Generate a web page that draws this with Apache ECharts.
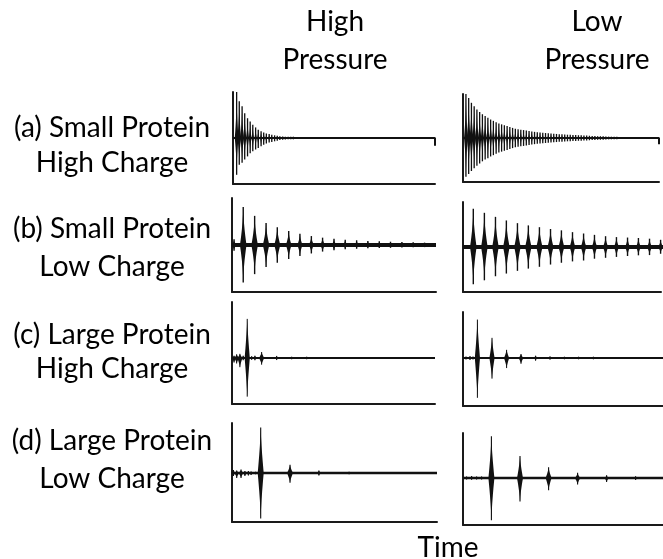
<!DOCTYPE html>
<html>
<head>
<meta charset="utf-8">
<script src="https://cdn.jsdelivr.net/npm/echarts@6/dist/echarts.min.js"></script>
<style>
  html, body { margin: 0; padding: 0; background: #fff; }
  #chart { width: 663px; height: 559px; }
</style>
</head>
<body>
<div id="chart"></div>
<script>
// Headings
const columnTitles = [['High', 'Pressure'], ['Low', 'Pressure']];
const rowTitles = [
  ['(a) Small Protein', 'High Charge'],
  ['(b) Small Protein', 'Low Charge'],
  ['(c) Large Protein', 'High Charge'],
  ['(d) Large Protein', 'Low Charge']
];
const timeTitle = 'Time';

// Transient signals. Each spike: time (0-100 across the trace),
// upward and downward excursion from the baseline (1 = baseline-to-axis distance).

// (a) small protein, high charge
const aHighTime = [1.8, 3.1, 4.5, 5.8, 7.2, 8.5, 9.8, 11.2, 12.5, 13.9, 15.2, 16.5, 17.9, 19.2, 20.6, 21.9, 23.2, 24.6, 25.9, 27.3, 28.6, 29.9];
const aHighUp   = [1.0, 0.80, 0.69, 0.54, 0.43, 0.36, 0.29, 0.23, 0.18, 0.145, 0.12, 0.10, 0.087, 0.07, 0.058, 0.05, 0.04, 0.034, 0.028, 0.023, 0.018, 0.014];
const aHighDown = [0.80, 0.58, 0.54, 0.47, 0.40, 0.33, 0.29, 0.25, 0.22, 0.18, 0.145, 0.12, 0.10, 0.087, 0.072, 0.058, 0.045, 0.036, 0.03, 0.024, 0.018, 0.014];
const aHighBaseline = [[0, 0], [100, 0], [100, -0.17]];

const aLowTime = [1.5, 2.9, 4.3, 5.7, 7.1, 8.5, 9.9, 11.3, 12.7, 14.1, 15.5, 16.9, 18.3, 19.7, 21.1, 22.5, 23.9, 25.3, 26.7, 28.1,
  29.5, 30.9, 32.3, 33.7, 35.1, 36.5, 37.9, 39.3, 40.7, 42.1, 43.5, 44.9, 46.3, 47.7, 49.1, 50.5, 51.9, 53.3, 54.7, 56.1,
  57.5, 58.9, 60.3, 61.7, 63.1, 64.5, 65.9, 67.3, 68.7, 70.1, 71.5, 72.9, 74.3, 75.7, 77.1, 78.5];
const aLowUp = [1.0, 0.91, 0.80, 0.72, 0.65, 0.59, 0.54, 0.50, 0.46, 0.42, 0.39, 0.36, 0.33, 0.31, 0.29, 0.27, 0.25, 0.23, 0.21, 0.20,
  0.19, 0.18, 0.17, 0.16, 0.15, 0.14, 0.133, 0.126, 0.12, 0.113, 0.106, 0.10, 0.096, 0.092, 0.088, 0.084, 0.08, 0.075, 0.072, 0.069,
  0.066, 0.063, 0.06, 0.057, 0.054, 0.051, 0.048, 0.045, 0.042, 0.04, 0.037, 0.034, 0.031, 0.028, 0.026, 0.024];
const aLowDown = [0.88, 0.82, 0.75, 0.69, 0.63, 0.58, 0.53, 0.49, 0.46, 0.42, 0.39, 0.36, 0.33, 0.31, 0.29, 0.27, 0.25, 0.23, 0.21, 0.20,
  0.19, 0.18, 0.17, 0.16, 0.15, 0.14, 0.133, 0.126, 0.12, 0.113, 0.106, 0.10, 0.096, 0.092, 0.088, 0.084, 0.08, 0.075, 0.072, 0.069,
  0.066, 0.063, 0.06, 0.057, 0.054, 0.051, 0.048, 0.045, 0.042, 0.04, 0.037, 0.034, 0.031, 0.028, 0.026, 0.024];
const aLowBaseline = [[0, 0], [100, 0], [100, -0.14]];

// (b) small protein, low charge
const bHighTime = [1.0, 5.5, 11.1, 16.7, 22.2, 27.8, 33.3, 38.9, 44.4, 50.0, 55.5, 61.1, 66.6, 72.2, 77.7, 83.3, 88.8, 94.4];
const bHighUp   = [0.12, 0.81, 0.62, 0.47, 0.38, 0.30, 0.24, 0.19, 0.156, 0.135, 0.113, 0.10, 0.085, 0.078, 0.07, 0.064, 0.057, 0.05];
const bHighDown = [0.12, 0.80, 0.62, 0.47, 0.376, 0.30, 0.234, 0.18, 0.14, 0.113, 0.09, 0.08, 0.07, 0.065, 0.06, 0.055, 0.05, 0.045];
const bHighBaseline = [[0, 0], [100, 0]];

const bLowTime = [5.2, 10.8, 16.4, 21.9, 27.5, 33.0, 38.6, 44.2, 49.7, 55.3, 60.9, 66.4, 72.0, 77.5, 83.1, 88.6, 94.2, 99.8];
const bLowUp   = [0.85, 0.76, 0.67, 0.59, 0.53, 0.48, 0.44, 0.40, 0.37, 0.33, 0.30, 0.27, 0.24, 0.22, 0.21, 0.20, 0.185, 0.16];
const bLowDown = [0.83, 0.74, 0.65, 0.59, 0.53, 0.48, 0.44, 0.39, 0.35, 0.32, 0.30, 0.26, 0.24, 0.22, 0.20, 0.185, 0.18, 0.15];
const bLowBaseline = [[0, 0], [101, 0]];

// (c) large protein, high charge
const cHighTime = [1.0, 2.3, 3.9, 5.5, 7.5, 9.7, 11.3, 14.6, 22.0, 29.4, 36.8];
const cHighUp   = [0.05, 0.08, 0.09, 0.05, 0.85, 0.04, 0.05, 0.13, 0.045, 0.02, 0.01];
const cHighDown = [0.10, 0.12, 0.20, 0.05, 0.84, 0.04, 0.05, 0.145, 0.045, 0.02, 0.01];
const cHighBaseline = [[0, 0], [100, 0]];

const cLowTime = [1.5, 3.5, 5.0, 7.2, 14.5, 21.8, 29.0, 36.3, 43.5, 50.7, 57.8, 65.2];
const cLowUp   = [0.03, 0.04, 0.03, 0.80, 0.42, 0.17, 0.083, 0.048, 0.035, 0.021, 0.015, 0.01];
const cLowDown = [0.03, 0.04, 0.03, 0.83, 0.43, 0.21, 0.12, 0.056, 0.035, 0.021, 0.015, 0.01];
const cLowBaseline = [[0, 0], [100, 0]];

// (d) large protein, low charge
const dHighTime = [0.7, 2.3, 4.4, 6.3, 8.0, 9.3, 11.5, 14.0, 28.3, 42.4, 57.1];
const dHighUp   = [0.06, 0.05, 0.07, 0.04, 0.04, 0.03, 0.02, 0.93, 0.17, 0.05, 0.02];
const dHighDown = [0.06, 0.10, 0.10, 0.06, 0.05, 0.04, 0.02, 0.93, 0.20, 0.05, 0.02];
const dHighBaseline = [[0, 0], [100, 0]];

const dLowTime = [1.8, 4.3, 6.8, 9.3, 14.2, 28.5, 42.8, 57.3, 71.8, 86.3];
const dLowUp   = [0.03, 0.04, 0.03, 0.03, 0.89, 0.47, 0.23, 0.11, 0.057, 0.036];
const dLowDown = [0.03, 0.04, 0.03, 0.03, 0.90, 0.50, 0.26, 0.14, 0.085, 0.043];
const dLowBaseline = [[0, 0], [100, 0]];

// Spike drawing styles
const styleA = { lineW: 1.3, bodyMin: 0.9, bodyK: 0.03, bodyMax: 1.9, pow: 2, base: 2 };
const styleB = { lineW: 1.4, bodyMin: 2.0, bodyK: 0.06, bodyMax: 3.3, pow: 1.7, base: 4 };
const styleC = { lineW: 1.0, bodyMin: 1.5, bodyK: 0.16, bodyMax: 2.6, pow: 1.3, base: 2 };
const styleD = { lineW: 1.1, bodyMin: 1.6, bodyK: 0.16, bodyMax: 3.0, pow: 1.4, base: 2.5 };

// Panel placement (pixels) for each trace
const panels = [
  { time: aHighTime, up: aHighUp, down: aHighDown, baseline: aHighBaseline,
    left: 233, top: 92, width: 202, height: 92, yMax: 1.0, style: styleA },
  { time: aLowTime, up: aLowUp, down: aLowDown, baseline: aLowBaseline,
    left: 463, top: 94, width: 196, height: 88, yMax: 1.0, style: styleA },
  { time: bHighTime, up: bHighUp, down: bHighDown, baseline: bHighBaseline,
    left: 232, top: 198, width: 204, height: 94, yMax: 1.0, style: styleB },
  { time: bLowTime, up: bLowUp, down: bLowDown, baseline: bLowBaseline,
    left: 463, top: 202, width: 198, height: 90, yMax: 1.0, style: styleB },
  { time: cHighTime, up: cHighUp, down: cHighDown, baseline: cHighBaseline,
    left: 232, top: 302, width: 203, height: 102, yMax: 1.217, style: styleC },
  { time: cLowTime, up: cLowUp, down: cLowDown, baseline: cLowBaseline,
    left: 463, top: 312, width: 200, height: 94, yMax: 0.958, style: styleC },
  { time: dHighTime, up: dHighUp, down: dHighDown, baseline: dHighBaseline,
    left: 232, top: 423, width: 205, height: 99, yMax: 1.02, style: styleD },
  { time: dLowTime, up: dLowUp, down: dLowDown, baseline: dLowBaseline,
    left: 463, top: 433, width: 200, height: 92, yMax: 0.957, style: styleD }
];

const INK = '#111';
const AXIS_INK = '#1a1a1a';
const FONT = '28px Lato';

// A spike is a thin vertical stroke with a tapering spindle body around the baseline.
function spikeRenderer(st) {
  const steps = [0, 0.06, 0.14, 0.25, 0.4, 0.6, 0.8, 1];
  return function (params, api) {
    const t = api.value(0);
    const base = api.coord([t, 0]);
    const top = api.coord([t, api.value(1)]);
    const bot = api.coord([t, -api.value(2)]);
    const x = base[0], y0 = base[1];
    const hu = Math.max(y0 - top[1], 1.3);
    const hd = Math.max(bot[1] - y0, 1.3);
    const w = Math.min(st.bodyMax, st.bodyMin + Math.max(hu, hd) * st.bodyK);
    const pts = [];
    for (let i = steps.length - 1; i >= 0; i--) pts.push([x + w * Math.pow(1 - steps[i], st.pow), y0 - hu * steps[i]]);
    for (let i = 1; i < steps.length; i++) pts.push([x + w * Math.pow(1 - steps[i], st.pow), y0 + hd * steps[i]]);
    for (let i = steps.length - 2; i >= 1; i--) pts.push([x - w * Math.pow(1 - steps[i], st.pow), y0 + hd * steps[i]]);
    for (let i = 0; i < steps.length; i++) pts.push([x - w * Math.pow(1 - steps[i], st.pow), y0 - hu * steps[i]]);
    return {
      type: 'group',
      children: [
        { type: 'line', shape: { x1: x, y1: y0 - hu, x2: x, y2: y0 + hd },
          style: { stroke: INK, lineWidth: st.lineW } },
        { type: 'polygon', shape: { points: pts }, style: { fill: INK } }
      ]
    };
  };
}

const grid = [], xAxis = [], yAxis = [], series = [];
panels.forEach(function (p, i) {
  grid.push({ left: p.left, top: p.top, width: p.width, height: p.height });
  xAxis.push({
    type: 'value', gridIndex: i, min: 0, max: 100,
    axisLine: { show: true, onZero: false, lineStyle: { color: AXIS_INK, width: 2 } },
    axisTick: { show: false }, axisLabel: { show: false }, splitLine: { show: false }
  });
  yAxis.push({
    type: 'value', gridIndex: i, min: -1, max: p.yMax,
    axisLine: { show: true, onZero: false, lineStyle: { color: AXIS_INK, width: 2 } },
    axisTick: { show: false }, axisLabel: { show: false }, splitLine: { show: false }
  });
  series.push({
    type: 'line', xAxisIndex: i, yAxisIndex: i, data: p.baseline,
    symbol: 'none', silent: true, animation: false,
    lineStyle: { color: INK, width: p.style.base }
  });
  series.push({
    type: 'custom', xAxisIndex: i, yAxisIndex: i, animation: false, silent: true,
    data: p.time.map(function (t, k) { return [t, p.up[k], p.down[k]]; }),
    encode: { x: 0, y: 1 },
    renderItem: spikeRenderer(p.style)
  });
});

// Text placement
const columnX = [335, 597];
const columnLineY = [22, 60];
const rowX = 112;
const rowLineY = [[128, 163], [229, 267], [335, 369], [441, 479]];

const graphic = [];
columnTitles.forEach(function (lines, c) {
  lines.forEach(function (s, k) {
    graphic.push({ type: 'text', x: columnX[c], y: columnLineY[k],
      style: { text: s, font: FONT, fill: '#000', textAlign: 'center', textVerticalAlign: 'middle' } });
  });
});
rowTitles.forEach(function (lines, r) {
  lines.forEach(function (s, k) {
    graphic.push({ type: 'text', x: rowX, y: rowLineY[r][k],
      style: { text: s, font: FONT, fill: '#000', textAlign: 'center', textVerticalAlign: 'middle' } });
  });
});
graphic.push({ type: 'text', x: 448, y: 548,
  style: { text: timeTitle, font: FONT, fill: '#000', textAlign: 'center', textVerticalAlign: 'middle' } });

const chart = echarts.init(document.getElementById('chart'), null, { renderer: 'canvas' });
chart.setOption({
  backgroundColor: '#fff',
  animation: false,
  grid: grid,
  xAxis: xAxis,
  yAxis: yAxis,
  series: series,
  graphic: graphic
});
</script>
</body>
</html>
